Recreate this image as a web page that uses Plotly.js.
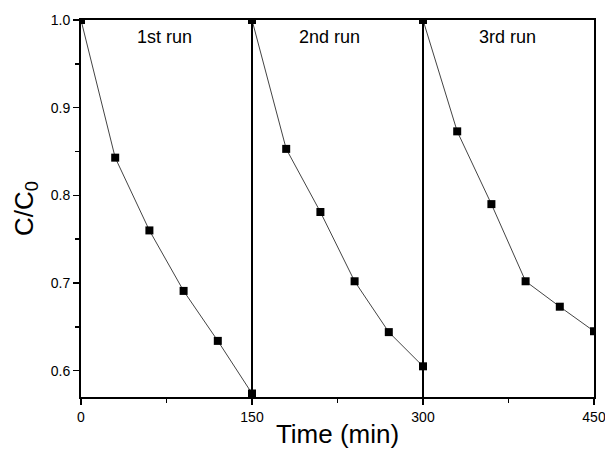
<!DOCTYPE html>
<html>
<head>
<meta charset="utf-8">
<script src="https://cdn.plot.ly/plotly-3.0.1.min.js"></script>
<style>html,body{margin:0;padding:0;background:#fff;}#chart{width:605px;height:449px;}</style>
</head>
<body>
<div id="chart"></div>
<script>
// Data
const run1Time = [0, 30, 60, 90, 120, 150];
const run1Ratio = [1.0, 0.843, 0.760, 0.691, 0.634, 0.574];
const run2Time = [150, 180, 210, 240, 270, 300];
const run2Ratio = [1.0, 0.853, 0.781, 0.702, 0.644, 0.605];
const run3Time = [300, 330, 360, 390, 420, 450];
const run3Ratio = [1.0, 0.873, 0.790, 0.702, 0.673, 0.645];
const runLabels = ["1st run", "2nd run", "3rd run"];
const runLabelX = [73, 218, 374];
const runBoundaries = [150, 300];
const xTicks = [0, 150, 300, 450];
const yTicks = [0.6, 0.7, 0.8, 0.9, 1.0];
const yTickText = ["0.6", "0.7", "0.8", "0.9", "1.0"];

const font = "Liberation Sans, Arial, sans-serif";
const mk = (x, y) => ({
  x: x, y: y, type: "scatter", mode: "lines+markers",
  line: {color: "#444", width: 1},
  marker: {symbol: "square", size: 8, color: "#000"},
  showlegend: false, cliponaxis: true
});
const data = [mk(run1Time, run1Ratio), mk(run2Time, run2Ratio), mk(run3Time, run3Ratio)];

const layout = {
  width: 605, height: 449,
  margin: {l: 81, r: 11, t: 20, b: 52},
  paper_bgcolor: "#fff", plot_bgcolor: "#fff",
  font: {family: font, color: "#000"},
  xaxis: {
    range: [0, 450], tickvals: xTicks, ticktext: xTicks.map(String),
    ticks: "outside", ticklen: 6, tickwidth: 1.5, tickcolor: "#000",
    minor: {dtick: 75, ticks: "outside", ticklen: 4, tickwidth: 1.5, tickcolor: "#000"},
    showline: true, linewidth: 2, linecolor: "#000", mirror: true,
    showgrid: false, zeroline: false,
    ticklabeloverflow: "allow",
    tickfont: {size: 14, family: font},
    title: {text: "Time (min)", font: {size: 26, family: font}, standoff: 2}
  },
  yaxis: {
    range: [0.57, 1.0], tickvals: yTicks, ticktext: yTickText,
    ticks: "outside", ticklen: 6, tickwidth: 1.5, tickcolor: "#000",
    minor: {tickvals: [0.65, 0.75, 0.85, 0.95], ticks: "outside", ticklen: 4, tickwidth: 1.5, tickcolor: "#000"},
    showline: true, linewidth: 2, linecolor: "#000", mirror: true,
    showgrid: false, zeroline: false,
    ticklabeloverflow: "allow",
    tickfont: {size: 14, family: font},
    title: {text: "C/C<sub>0</sub>", font: {size: 26, family: font}, standoff: 10}
  },
  shapes: runBoundaries.map(b => ({
    type: "line", xref: "x", yref: "paper", x0: b, x1: b, y0: 0, y1: 1,
    line: {color: "#000", width: 2}
  })),
  annotations: runLabels.map((t, i) => ({
    text: t, x: runLabelX[i], y: 0.981, xref: "x", yref: "y",
    showarrow: false, xanchor: "center", yanchor: "middle",
    font: {size: 18, family: font, color: "#000"}
  }))
};

Plotly.newPlot("chart", data, layout, {displayModeBar: false, staticPlot: true});
</script>
</body>
</html>
